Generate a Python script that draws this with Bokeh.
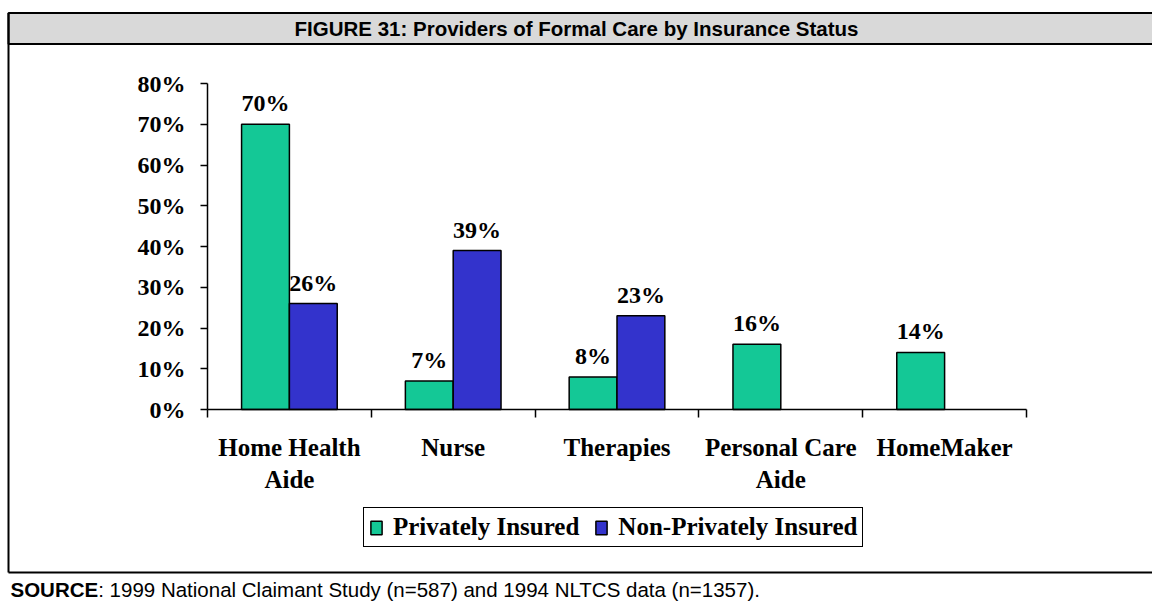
from bokeh.plotting import figure
from bokeh.models import Range1d, LinearAxis, FixedTicker, Legend, LegendItem
from bokeh.core.properties import value
from bokeh.embed import file_html
from bokeh.resources import INLINE
import numpy as np

# ---------------- data ----------------
title_text = "FIGURE 31: Providers of Formal Care by Insurance Status"
source_label = "SOURCE"
source_text = ":  1999 National Claimant Study (n=587) and 1994 NLTCS data (n=1357)."
categories = ["Home Health\nAide", "Nurse", "Therapies", "Personal Care\nAide", "HomeMaker"]
series_names = ["Privately Insured", "Non-Privately Insured"]
privately_insured = [70, 7, 8, 16, 14]
non_privately_insured = [26, 39, 23, None, None]
y_ticks = [0, 10, 20, 30, 40, 50, 60, 70, 80]
y_tick_labels = ["0%", "10%", "20%", "30%", "40%", "50%", "60%", "70%", "80%"]

# ---------------- layout helpers (pixel -> data) ----------------
W, H = 1152, 601
X0, XS = 207.0, 163.8     # px of x=0, px per category
Y0, YS = 409.0, 4.075     # px of y=0, px per percent


def dx(px):
    return (px - X0) / XS


def dy(py):
    return (Y0 - py) / YS


SERIF = value("Liberation Serif")
SANS = value("Liberation Sans")
GREEN = "#14C896"
BLUE = "#3333CC"

p = figure(width=W, height=H,
           x_range=Range1d(dx(0), dx(W)), y_range=Range1d(dy(H), dy(0)),
           x_axis_type=None, y_axis_type=None,
           output_backend="svg", toolbar_location=None, min_border=0)
p.outline_line_color = None
p.background_fill_color = "white"
p.border_fill_color = "white"

# ---------------- frame decorations ----------------
p.quad(left=[dx(8)], right=[dx(W + 5)], top=[dy(12.5)], bottom=[dy(43.5)],
       fill_color="#D9D9D9", line_color="black", line_width=2)
p.segment(x0=[dx(8)], y0=[dy(12.5)], x1=[dx(8)], y1=[dy(572)], line_color="black", line_width=2)
p.segment(x0=[dx(8)], y0=[dy(572)], x1=[dx(W + 5)], y1=[dy(572)], line_color="black", line_width=2)
p.text(x=[dx(576)], y=[dy(28)], text=[title_text], text_align="center", text_baseline="middle",
       text_font=SANS, text_font_style="bold", text_font_size="20.5px", text_color="black")
p.text(x=[dx(10)], y=[dy(589)], text=[source_label], text_align="left", text_baseline="middle",
       text_font=SANS, text_font_style="bold", text_font_size="20.5px", text_color="black")
p.text(x=[dx(10 + 87.7)], y=[dy(589)], text=[source_text], text_align="left", text_baseline="middle",
       text_font=SANS, text_font_size="20.5px", text_color="black")

# ---------------- axes ----------------
yax = LinearAxis(fixed_location=0, bounds=(0, 80), ticker=FixedTicker(ticks=y_ticks),
                 major_label_overrides={t: l for t, l in zip(y_ticks, y_tick_labels)},
                 major_tick_in=0, major_tick_out=7, minor_tick_line_color=None,
                 axis_line_width=1.5, major_tick_line_width=1.5, major_label_standoff=15,
                 major_label_text_font="Liberation Serif", major_label_text_font_style="bold",
                 major_label_text_font_size="24px", major_label_text_color="black")
p.add_layout(yax, "left")

n = len(categories)
bounds_ticks = list(range(n + 1))
xax = LinearAxis(fixed_location=0, bounds=(0, n), ticker=FixedTicker(ticks=bounds_ticks),
                 major_label_overrides={t: "" for t in bounds_ticks},
                 major_tick_in=0, major_tick_out=8, minor_tick_line_color=None,
                 axis_line_width=1.5, major_tick_line_width=1.5)
p.add_layout(xax, "below")

centers = (np.arange(n) + 0.5).tolist()
cax = LinearAxis(fixed_location=0, ticker=FixedTicker(ticks=centers),
                 major_label_overrides={c: lab for c, lab in zip(centers, categories)},
                 major_tick_in=0, major_tick_out=0, minor_tick_line_color=None,
                 axis_line_color=None, major_label_standoff=24,
                 major_label_text_font="Liberation Serif", major_label_text_font_style="bold",
                 major_label_text_font_size="25px", major_label_text_color="black",
                 major_label_text_line_height=1.2)
p.add_layout(cax, "below")

# ---------------- bars ----------------
off, bw = 0.146, 0.292
gx = [c - off for c in centers]
green = p.vbar(x=gx, top=privately_insured, width=bw, bottom=0,
               fill_color=GREEN, line_color="black", line_width=1.5)
bx = [c + off for c, v in zip(centers, non_privately_insured) if v is not None]
btop = [v for v in non_privately_insured if v is not None]
blue = p.vbar(x=bx, top=btop, width=bw, bottom=0,
              fill_color=BLUE, line_color="black", line_width=1.5)

p.text(x=gx, y=privately_insured, text=[f"{v}%" for v in privately_insured],
       text_align="center", text_baseline="middle", y_offset=-21,
       text_font=SERIF, text_font_style="bold", text_font_size="24px", text_color="black")
p.text(x=bx, y=btop, text=[f"{v}%" for v in btop],
       text_align="center", text_baseline="middle", y_offset=-21,
       text_font=SERIF, text_font_style="bold", text_font_size="24px", text_color="black")

# ---------------- legend ----------------
legend = Legend(items=[LegendItem(label=series_names[0], renderers=[green]),
                       LegendItem(label=series_names[1], renderers=[blue])],
                orientation="horizontal", location=(363, 54),
                border_line_color="black", border_line_width=1.5, border_line_alpha=1,
                background_fill_color="white", background_fill_alpha=1,
                padding=5, spacing=15, margin=0,
                glyph_width=14, glyph_height=17, label_standoff=10, label_height=26,
                label_text_font="Liberation Serif", label_text_font_style="bold",
                label_text_font_size="25px", label_text_color="black")
p.add_layout(legend)

open("out.html", "w").write(file_html(p, INLINE))
